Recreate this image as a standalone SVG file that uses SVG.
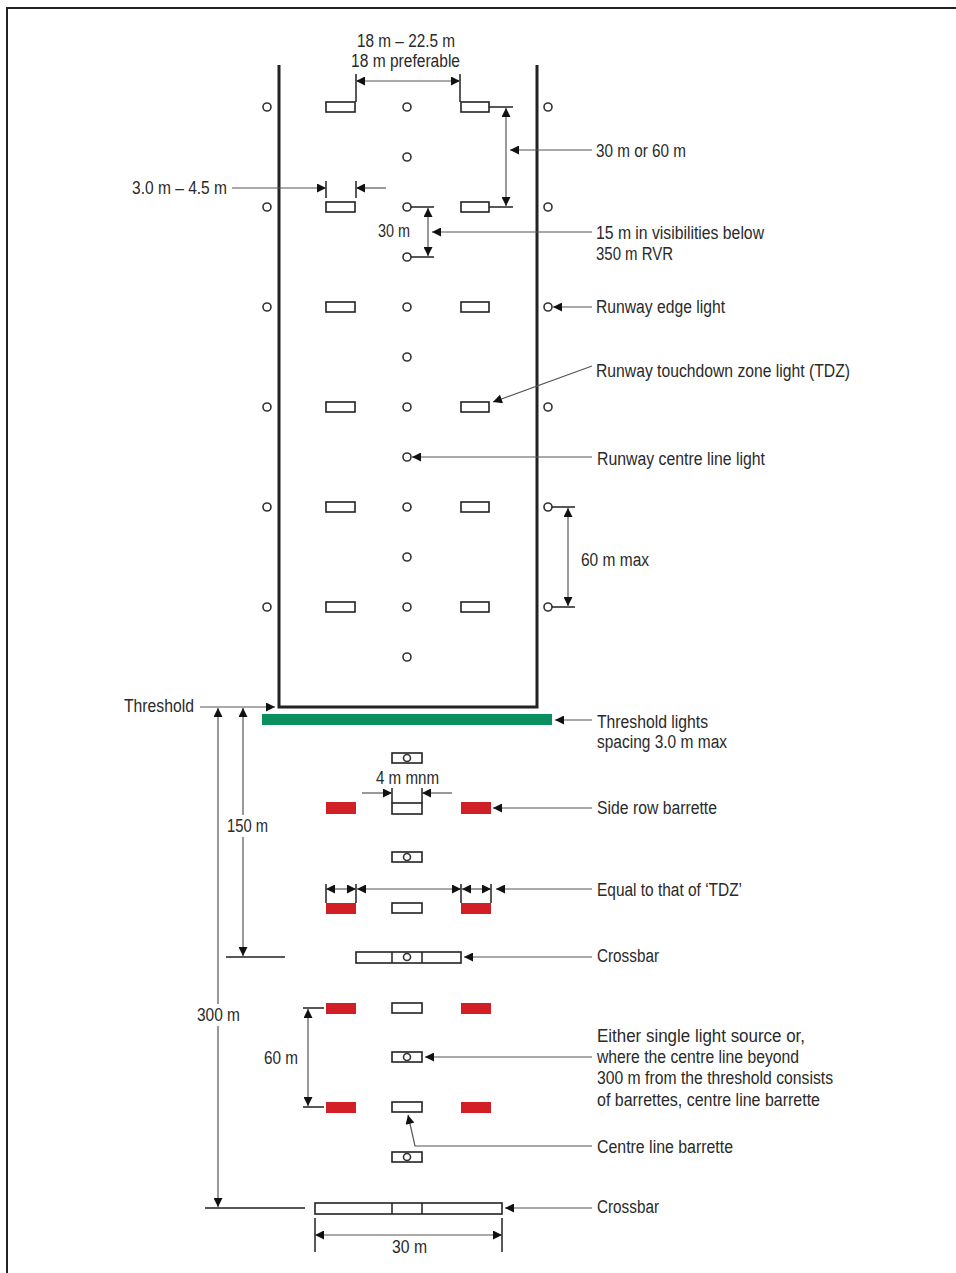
<svg xmlns="http://www.w3.org/2000/svg" width="956" height="1273" viewBox="0 0 956 1273">
<style>
.t{font-family:"Liberation Sans",Arial,sans-serif;font-size:18px;fill:#2a2a2a}
.lt{fill:#fff;stroke:#333;stroke-width:1.6}
.bar{fill:#fff;stroke:#222;stroke-width:1.6}
.red{fill:#d21f26}
.ld{stroke:#555;stroke-width:1.2;fill:none}
.tk{stroke:#222;stroke-width:1.5;fill:none}
.a{marker-end:url(#ah)}
.aa{marker-start:url(#ah);marker-end:url(#ah)}
</style>
<defs>
<marker id="ah" viewBox="0 0 10 10" refX="10" refY="5" markerWidth="10" markerHeight="9" markerUnits="userSpaceOnUse" orient="auto-start-reverse">
<path d="M0,0 L10,5 L0,10 z" fill="#111"/>
</marker>
</defs>
<rect width="956" height="1273" fill="#fff"/>
<path d="M7,1273 V8 H956" fill="none" stroke="#222" stroke-width="2"/>

<g id="runway">
<path d="M279,65 V707 H537 V65" fill="none" stroke="#222" stroke-width="3"/>
</g>

<g id="edge-lights">
<circle class="lt" cx="267" cy="107" r="4"/><circle class="lt" cx="548" cy="107" r="4"/>
<circle class="lt" cx="267" cy="207" r="4"/><circle class="lt" cx="548" cy="207" r="4"/>
<circle class="lt" cx="267" cy="307" r="4"/><circle class="lt" cx="548" cy="307" r="4"/>
<circle class="lt" cx="267" cy="407" r="4"/><circle class="lt" cx="548" cy="407" r="4"/>
<circle class="lt" cx="267" cy="507" r="4"/><circle class="lt" cx="548" cy="507" r="4"/>
<circle class="lt" cx="267" cy="607" r="4"/><circle class="lt" cx="548" cy="607" r="4"/>
</g>

<g id="centre-lights">
<circle class="lt" cx="407" cy="107" r="4"/><circle class="lt" cx="407" cy="157" r="4"/>
<circle class="lt" cx="407" cy="207" r="4"/><circle class="lt" cx="407" cy="257" r="4"/>
<circle class="lt" cx="407" cy="307" r="4"/><circle class="lt" cx="407" cy="357" r="4"/>
<circle class="lt" cx="407" cy="407" r="4"/><circle class="lt" cx="407" cy="457" r="4"/>
<circle class="lt" cx="407" cy="507" r="4"/><circle class="lt" cx="407" cy="557" r="4"/>
<circle class="lt" cx="407" cy="607" r="4"/><circle class="lt" cx="407" cy="657" r="4"/>
</g>

<g id="tdz-lights">
<rect class="bar" x="326" y="102" width="29" height="10"/><rect class="bar" x="461" y="102" width="28" height="10"/>
<rect class="bar" x="326" y="202" width="29" height="10"/><rect class="bar" x="461" y="202" width="28" height="10"/>
<rect class="bar" x="326" y="302" width="29" height="10"/><rect class="bar" x="461" y="302" width="28" height="10"/>
<rect class="bar" x="326" y="402" width="29" height="10"/><rect class="bar" x="461" y="402" width="28" height="10"/>
<rect class="bar" x="326" y="502" width="29" height="10"/><rect class="bar" x="461" y="502" width="28" height="10"/>
<rect class="bar" x="326" y="602" width="29" height="10"/><rect class="bar" x="461" y="602" width="28" height="10"/>
</g>

<g id="threshold-lights">
<rect x="262" y="714" width="290" height="11" fill="#0b8f5e"/>
</g>

<g id="approach-lights">
<rect class="bar" x="392" y="753" width="30" height="10"/><circle class="lt" cx="407" cy="758" r="3.5"/>
<rect class="bar" x="392" y="803" width="30" height="11"/>
<rect class="red" x="326" y="802" width="30" height="12"/><rect class="red" x="461" y="802" width="30" height="12"/>
<rect class="bar" x="392" y="852" width="30" height="10"/><circle class="lt" cx="407" cy="857" r="3.5"/>
<rect class="bar" x="392" y="903" width="30" height="10"/>
<rect class="red" x="326" y="903" width="30" height="11"/><rect class="red" x="461" y="903" width="30" height="11"/>
<g id="crossbar-150">
<rect class="bar" x="356" y="952" width="105" height="11"/>
<path class="tk" d="M392,952 V963 M422,952 V963"/>
<circle class="lt" cx="407" cy="957" r="3.5"/>
</g>
<rect class="red" x="326" y="1003" width="30" height="11"/><rect class="bar" x="392" y="1003" width="30" height="10"/><rect class="red" x="461" y="1003" width="30" height="11"/>
<rect class="bar" x="392" y="1052" width="30" height="10"/><circle class="lt" cx="407" cy="1057" r="3.5"/>
<rect class="red" x="326" y="1102" width="30" height="11"/><rect class="bar" x="392" y="1102" width="30" height="10"/><rect class="red" x="461" y="1102" width="30" height="11"/>
<rect class="bar" x="392" y="1152" width="30" height="10"/><circle class="lt" cx="407" cy="1157" r="3.5"/>
<g id="crossbar-300">
<rect class="bar" x="315" y="1203" width="187" height="11"/>
<path class="tk" d="M392,1203 V1214 M422,1203 V1214"/>
</g>
</g>

<g id="connectors">
<path class="tk" d="M356,74 V102 M460,74 V102"/>
<line class="ld aa" x1="356" y1="81" x2="460" y2="81"/>
<path class="tk" d="M489,107 H513 M489,207 H513"/>
<line class="ld aa" x1="506" y1="108" x2="506" y2="206"/>
<line class="ld a" x1="592" y1="150" x2="510" y2="150"/>
<path class="tk" d="M326,181 V198 M356,181 V198"/>
<line class="ld a" x1="232" y1="188" x2="326" y2="188"/>
<line class="ld a" x1="386" y1="188" x2="356" y2="188"/>
<path class="tk" d="M411,207 H434 M411,257 H434"/>
<line class="ld aa" x1="428" y1="208" x2="428" y2="256"/>
<line class="ld a" x1="592" y1="232" x2="432" y2="232"/>
<line class="ld a" x1="592" y1="307" x2="553" y2="307"/>
<line class="ld a" x1="592" y1="366" x2="493" y2="402"/>
<line class="ld a" x1="592" y1="457" x2="412" y2="457"/>
<path class="tk" d="M552,507 H575 M552,607 H575"/>
<line class="ld aa" x1="568" y1="508" x2="568" y2="606"/>
<line class="ld a" x1="200" y1="707" x2="275" y2="707"/>
<line class="ld a" x1="592" y1="720" x2="555" y2="720"/>
<line class="ld aa" x1="243" y1="708" x2="243" y2="956"/>
<line class="ld aa" x1="218" y1="708" x2="218" y2="1207"/>
<path class="tk" d="M226,957 H285 M205,1208 H305"/>
<path class="tk" d="M392,788 V803 M422,788 V803"/>
<line class="ld a" x1="362" y1="793" x2="392" y2="793"/>
<line class="ld a" x1="452" y1="793" x2="422" y2="793"/>
<line class="ld a" x1="592" y1="808" x2="493" y2="808"/>
<path class="tk" d="M326,884 V903 M356,884 V903 M461,884 V903 M491,884 V903"/>
<line class="ld aa" x1="326" y1="889" x2="356" y2="889"/>
<line class="ld aa" x1="357" y1="889" x2="461" y2="889"/>
<line class="ld aa" x1="462" y1="889" x2="491" y2="889"/>
<line class="ld a" x1="592" y1="889" x2="496" y2="889"/>
<line class="ld a" x1="592" y1="957" x2="464" y2="957"/>
<path class="tk" d="M303,1008 H324 M303,1107 H324"/>
<line class="ld aa" x1="308" y1="1009" x2="308" y2="1106"/>
<line class="ld a" x1="592" y1="1057" x2="425" y2="1057"/>
<polyline class="ld a" points="592,1146 415,1146 408,1115"/>
<line class="ld a" x1="592" y1="1208" x2="505" y2="1208"/>
<path class="tk" d="M315,1218 V1252 M502,1218 V1252"/>
<line class="ld aa" x1="315" y1="1235" x2="502" y2="1235"/>
</g>

<g id="labels">
<text class="t" x="357" y="47" textLength="98" lengthAdjust="spacingAndGlyphs">18 m – 22.5 m</text>
<text class="t" x="351" y="67" textLength="109" lengthAdjust="spacingAndGlyphs">18 m preferable</text>
<text class="t" x="132" y="194" textLength="95" lengthAdjust="spacingAndGlyphs">3.0 m – 4.5 m</text>
<text class="t" x="378" y="237" textLength="32" lengthAdjust="spacingAndGlyphs">30 m</text>
<text class="t" x="596" y="157" textLength="90" lengthAdjust="spacingAndGlyphs">30 m or 60 m</text>
<text class="t" x="596" y="239" textLength="168" lengthAdjust="spacingAndGlyphs">15 m in visibilities below</text>
<text class="t" x="596" y="260" textLength="77" lengthAdjust="spacingAndGlyphs">350 m RVR</text>
<text class="t" x="596" y="313" textLength="129" lengthAdjust="spacingAndGlyphs">Runway edge light</text>
<text class="t" x="596" y="377" textLength="254" lengthAdjust="spacingAndGlyphs">Runway touchdown zone light (TDZ)</text>
<text class="t" x="597" y="465" textLength="168" lengthAdjust="spacingAndGlyphs">Runway centre line light</text>
<text class="t" x="581" y="566" textLength="68" lengthAdjust="spacingAndGlyphs">60 m max</text>
<text class="t" x="124" y="712" textLength="70" lengthAdjust="spacingAndGlyphs">Threshold</text>
<text class="t" x="597" y="728" textLength="111" lengthAdjust="spacingAndGlyphs">Threshold lights</text>
<text class="t" x="597" y="748" textLength="130" lengthAdjust="spacingAndGlyphs">spacing 3.0 m max</text>
<text class="t" x="376" y="784" textLength="63" lengthAdjust="spacingAndGlyphs">4 m mnm</text>
<rect x="225" y="815" width="46" height="22" fill="#fff"/>
<text class="t" x="227" y="832" textLength="41" lengthAdjust="spacingAndGlyphs">150 m</text>
<text class="t" x="597" y="814" textLength="120" lengthAdjust="spacingAndGlyphs">Side row barrette</text>
<text class="t" x="597" y="896" textLength="145" lengthAdjust="spacingAndGlyphs">Equal to that of ‘TDZ’</text>
<text class="t" x="597" y="962" textLength="62" lengthAdjust="spacingAndGlyphs">Crossbar</text>
<rect x="195" y="1004" width="48" height="22" fill="#fff"/>
<text class="t" x="197" y="1021" textLength="43" lengthAdjust="spacingAndGlyphs">300 m</text>
<text class="t" x="264" y="1064" textLength="34" lengthAdjust="spacingAndGlyphs">60 m</text>
<text class="t" x="597" y="1042" textLength="208" lengthAdjust="spacingAndGlyphs">Either single light source or,</text>
<text class="t" x="597" y="1063" textLength="202" lengthAdjust="spacingAndGlyphs">where the centre line beyond</text>
<text class="t" x="597" y="1084" textLength="236" lengthAdjust="spacingAndGlyphs">300 m from the threshold consists</text>
<text class="t" x="597" y="1106" textLength="223" lengthAdjust="spacingAndGlyphs">of barrettes, centre line barrette</text>
<text class="t" x="597" y="1153" textLength="136" lengthAdjust="spacingAndGlyphs">Centre line barrette</text>
<text class="t" x="597" y="1213" textLength="62" lengthAdjust="spacingAndGlyphs">Crossbar</text>
<text class="t" x="392" y="1253" textLength="35" lengthAdjust="spacingAndGlyphs">30 m</text>
</g>
</svg>
